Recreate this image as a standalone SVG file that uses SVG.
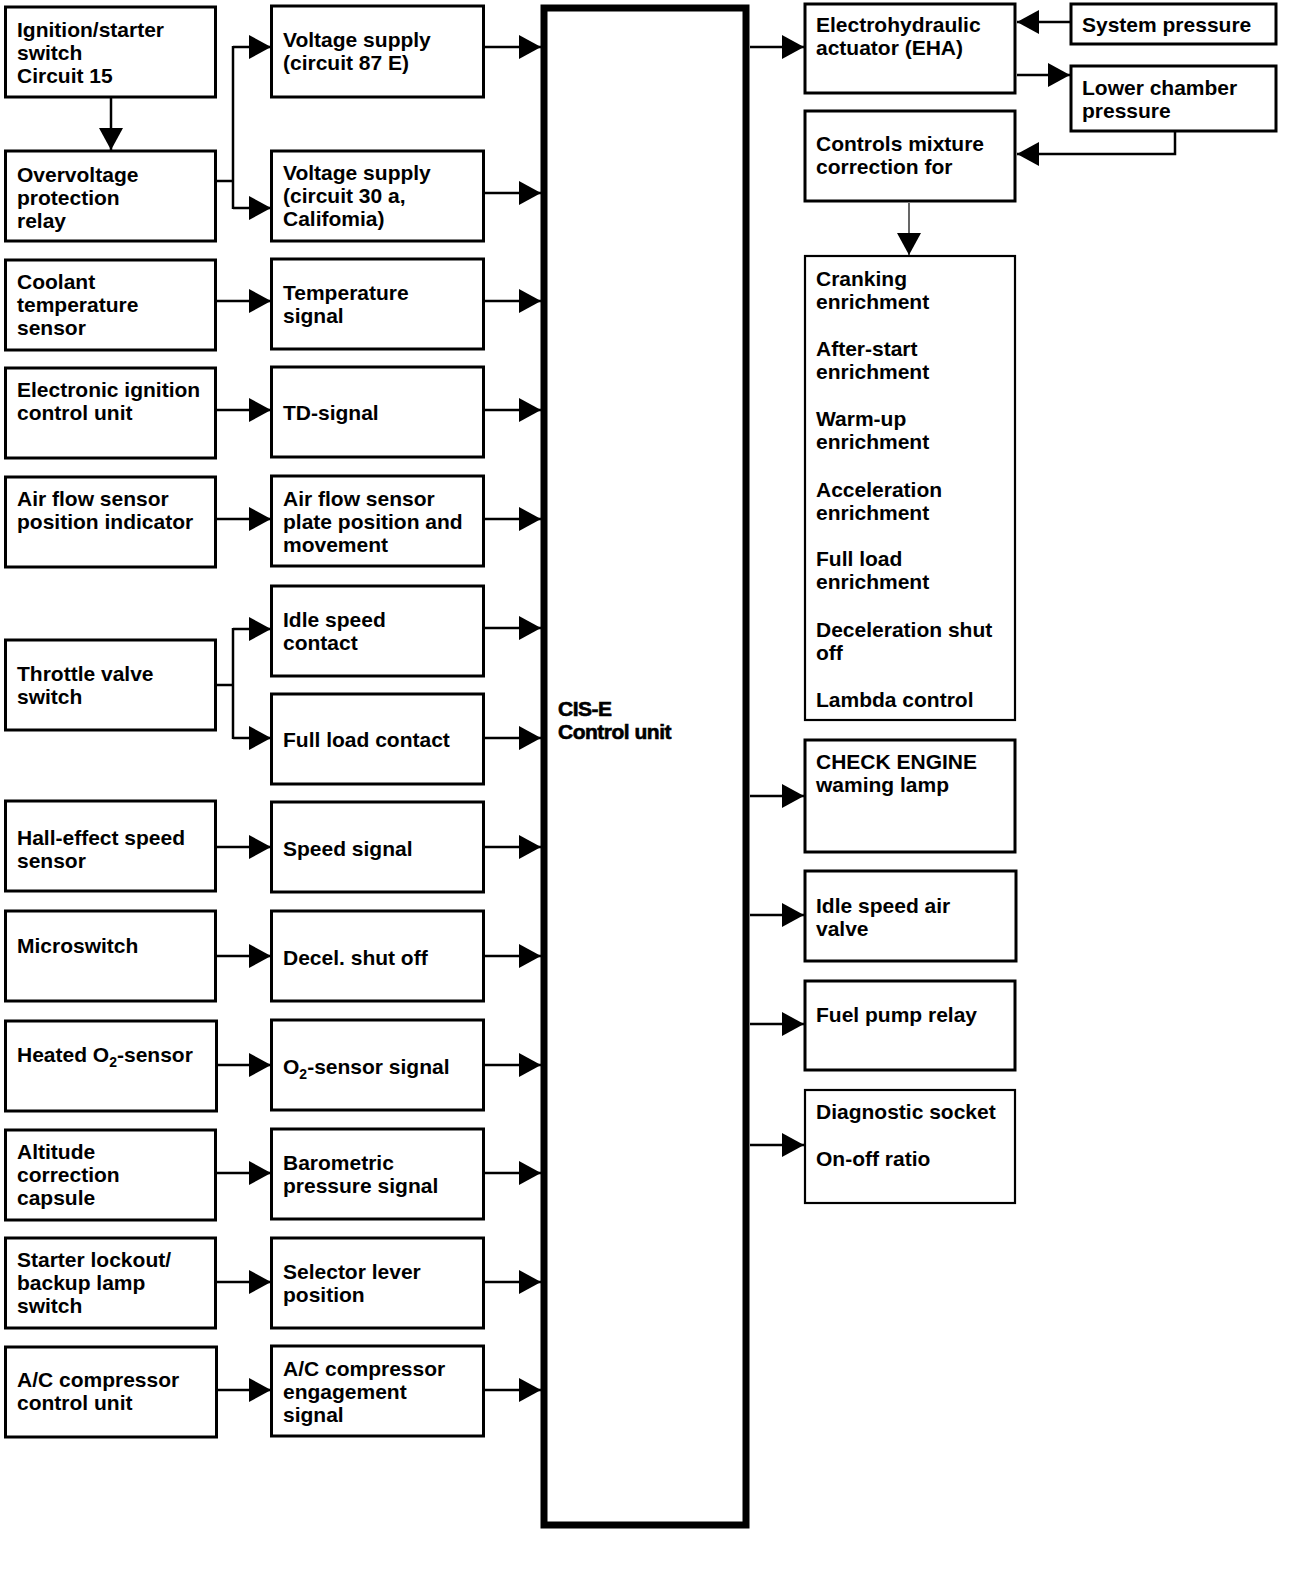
<svg xmlns="http://www.w3.org/2000/svg" width="1312" height="1588" viewBox="0 0 1312 1588">
<style>
text{font-family:"Liberation Sans",Arial,sans-serif;font-size:21px;font-weight:bold;fill:#000}
.box{fill:#fff;stroke:#000;stroke-width:3}
.thin{fill:#fff;stroke:#000;stroke-width:2.2}
.cu{fill:#fff;stroke:#000;stroke-width:7}
.c{fill:none;stroke:#000;stroke-width:2.5}
.c1{fill:none;stroke:#000;stroke-width:1.2}
.cut{font-size:21px;letter-spacing:-0.5px;stroke:#000;stroke-width:0.6}
</style>
<defs>
<marker id="ah" viewBox="0 0 22 24" refX="22" refY="12" markerWidth="22" markerHeight="24" markerUnits="userSpaceOnUse" orient="auto">
<path d="M0,0 L22,12 L0,24 z" fill="#000"/>
</marker>
</defs>
<rect width="1312" height="1588" fill="#fff"/>

<g id="connectors">
<line class="c" x1="111" y1="98" x2="111" y2="150" marker-end="url(#ah)"/>
<polyline class="c" points="217,181 233,181"/>
<line class="c" x1="233" y1="46" x2="233" y2="209"/>
<line class="c" x1="233" y1="47" x2="271" y2="47" marker-end="url(#ah)"/>
<line class="c" x1="233" y1="208" x2="271" y2="208" marker-end="url(#ah)"/>
<line class="c" x1="217" y1="301" x2="271" y2="301" marker-end="url(#ah)"/>
<line class="c" x1="217" y1="410" x2="271" y2="410" marker-end="url(#ah)"/>
<line class="c" x1="217" y1="519" x2="271" y2="519" marker-end="url(#ah)"/>
<polyline class="c" points="217,685 233,685"/>
<line class="c" x1="233" y1="628" x2="233" y2="739"/>
<line class="c" x1="233" y1="629" x2="271" y2="629" marker-end="url(#ah)"/>
<line class="c" x1="233" y1="738" x2="271" y2="738" marker-end="url(#ah)"/>
<line class="c" x1="217" y1="847" x2="271" y2="847" marker-end="url(#ah)"/>
<line class="c" x1="217" y1="956" x2="271" y2="956" marker-end="url(#ah)"/>
<line class="c" x1="217" y1="1065" x2="271" y2="1065" marker-end="url(#ah)"/>
<line class="c" x1="217" y1="1173" x2="271" y2="1173" marker-end="url(#ah)"/>
<line class="c" x1="217" y1="1282" x2="271" y2="1282" marker-end="url(#ah)"/>
<line class="c" x1="217" y1="1390" x2="271" y2="1390" marker-end="url(#ah)"/>

<line class="c" x1="485" y1="47" x2="541" y2="47" marker-end="url(#ah)"/>
<line class="c" x1="485" y1="193" x2="541" y2="193" marker-end="url(#ah)"/>
<line class="c" x1="485" y1="301" x2="541" y2="301" marker-end="url(#ah)"/>
<line class="c" x1="485" y1="410" x2="541" y2="410" marker-end="url(#ah)"/>
<line class="c" x1="485" y1="519" x2="541" y2="519" marker-end="url(#ah)"/>
<line class="c" x1="485" y1="628" x2="541" y2="628" marker-end="url(#ah)"/>
<line class="c" x1="485" y1="738" x2="541" y2="738" marker-end="url(#ah)"/>
<line class="c" x1="485" y1="847" x2="541" y2="847" marker-end="url(#ah)"/>
<line class="c" x1="485" y1="956" x2="541" y2="956" marker-end="url(#ah)"/>
<line class="c" x1="485" y1="1065" x2="541" y2="1065" marker-end="url(#ah)"/>
<line class="c" x1="485" y1="1173" x2="541" y2="1173" marker-end="url(#ah)"/>
<line class="c" x1="485" y1="1282" x2="541" y2="1282" marker-end="url(#ah)"/>
<line class="c" x1="485" y1="1390" x2="541" y2="1390" marker-end="url(#ah)"/>

<line class="c" x1="750" y1="47" x2="804" y2="47" marker-end="url(#ah)"/>
<line class="c" x1="750" y1="796" x2="804" y2="796" marker-end="url(#ah)"/>
<line class="c" x1="750" y1="915" x2="804" y2="915" marker-end="url(#ah)"/>
<line class="c" x1="750" y1="1024" x2="804" y2="1024" marker-end="url(#ah)"/>
<line class="c" x1="750" y1="1145" x2="804" y2="1145" marker-end="url(#ah)"/>

<line class="c" x1="1070" y1="22" x2="1017" y2="22" marker-end="url(#ah)"/>
<line class="c" x1="1017" y1="75" x2="1070" y2="75" marker-end="url(#ah)"/>
<polyline class="c" points="1175,132 1175,154 1017,154" marker-end="url(#ah)"/>
<line class="c1" x1="909" y1="203" x2="909" y2="255" marker-end="url(#ah)"/>
</g>

<g id="n-ignition"><rect class="box" x="5.5" y="7" width="210" height="90"/><text x="17" y="37">Ignition/starter</text><text x="17" y="60">switch</text><text x="17" y="83">Circuit 15</text></g>
<g id="n-overvoltage"><rect class="box" x="5.5" y="151" width="210" height="90"/><text x="17" y="182">Overvoltage</text><text x="17" y="205">protection</text><text x="17" y="228">relay</text></g>
<g id="n-coolant"><rect class="box" x="5.5" y="260" width="210" height="90"/><text x="17" y="289">Coolant</text><text x="17" y="312">temperature</text><text x="17" y="335">sensor</text></g>
<g id="n-eicu"><rect class="box" x="5.5" y="368" width="210" height="90"/><text x="17" y="397">Electronic ignition</text><text x="17" y="420">control unit</text></g>
<g id="n-afspi"><rect class="box" x="5.5" y="477" width="210" height="90"/><text x="17" y="506">Air flow sensor</text><text x="17" y="529">position indicator</text></g>
<g id="n-throttle"><rect class="box" x="5.5" y="640" width="210" height="90"/><text x="17" y="681">Throttle valve</text><text x="17" y="704">switch</text></g>
<g id="n-hall"><rect class="box" x="5.5" y="801" width="210" height="90"/><text x="17" y="845">Hall-effect speed</text><text x="17" y="868">sensor</text></g>
<g id="n-micro"><rect class="box" x="5.5" y="911" width="210" height="90"/><text x="17" y="953">Microswitch</text></g>
<g id="n-heated"><rect class="box" x="5.5" y="1021" width="211" height="90"/><text x="17" y="1062">Heated O<tspan font-size="14" dy="5">2</tspan><tspan dy="-5">-sensor</tspan></text></g>
<g id="n-altitude"><rect class="box" x="5.5" y="1130" width="210" height="90"/><text x="17" y="1159">Altitude</text><text x="17" y="1182">correction</text><text x="17" y="1205">capsule</text></g>
<g id="n-starter"><rect class="box" x="5.5" y="1238" width="210" height="90"/><text x="17" y="1267">Starter lockout/</text><text x="17" y="1290">backup lamp</text><text x="17" y="1313">switch</text></g>
<g id="n-accu"><rect class="box" x="5.5" y="1347" width="211" height="90"/><text x="17" y="1387">A/C compressor</text><text x="17" y="1410">control unit</text></g>

<g id="n-vs87"><rect class="box" x="271.5" y="6" width="212" height="91"/><text x="283" y="47">Voltage supply</text><text x="283" y="70">(circuit 87 E)</text></g>
<g id="n-vs30"><rect class="box" x="271.5" y="151" width="212" height="90"/><text x="283" y="180">Voltage supply</text><text x="283" y="203">(circuit 30 a,</text><text x="283" y="226">Califomia)</text></g>
<g id="n-temp"><rect class="box" x="271.5" y="259" width="212" height="90"/><text x="283" y="300">Temperature</text><text x="283" y="323">signal</text></g>
<g id="n-td"><rect class="box" x="271.5" y="367" width="212" height="90"/><text x="283" y="420">TD-signal</text></g>
<g id="n-afpp"><rect class="box" x="271.5" y="476" width="212" height="90"/><text x="283" y="506">Air flow sensor</text><text x="283" y="529">plate position and</text><text x="283" y="552">movement</text></g>
<g id="n-idlec"><rect class="box" x="271.5" y="586" width="212" height="90"/><text x="283" y="627">Idle speed</text><text x="283" y="650">contact</text></g>
<g id="n-fullc"><rect class="box" x="271.5" y="694" width="212" height="90"/><text x="283" y="747">Full load contact</text></g>
<g id="n-speed"><rect class="box" x="271.5" y="802" width="212" height="90"/><text x="283" y="856">Speed signal</text></g>
<g id="n-decel"><rect class="box" x="271.5" y="911" width="212" height="90"/><text x="283" y="965">Decel. shut off</text></g>
<g id="n-o2sig"><rect class="box" x="271.5" y="1020" width="212" height="90"/><text x="283" y="1074">O<tspan font-size="14" dy="5">2</tspan><tspan dy="-5">-sensor signal</tspan></text></g>
<g id="n-baro"><rect class="box" x="271.5" y="1129" width="212" height="90"/><text x="283" y="1170">Barometric</text><text x="283" y="1193">pressure signal</text></g>
<g id="n-selector"><rect class="box" x="271.5" y="1238" width="212" height="90"/><text x="283" y="1279">Selector lever</text><text x="283" y="1302">position</text></g>
<g id="n-aceng"><rect class="box" x="271.5" y="1346" width="212" height="90"/><text x="283" y="1376">A/C compressor</text><text x="283" y="1399">engagement</text><text x="283" y="1422">signal</text></g>

<g id="n-cu"><rect class="cu" x="544" y="8" width="202" height="1517"/><text class="cut" x="558" y="716">CIS-E</text><text class="cut" x="558" y="739">Control unit</text></g>

<g id="n-eha"><rect class="box" x="805" y="4" width="210" height="89"/><text x="816" y="32">Electrohydraulic</text><text x="816" y="55">actuator (EHA)</text></g>
<g id="n-syspress"><rect class="box" x="1071" y="4" width="205" height="40"/><text x="1082" y="32">System pressure</text></g>
<g id="n-lower"><rect class="box" x="1071" y="66" width="205" height="65"/><text x="1082" y="95">Lower chamber</text><text x="1082" y="118">pressure</text></g>
<g id="n-controls"><rect class="box" x="805" y="111" width="210" height="90"/><text x="816" y="151">Controls mixture</text><text x="816" y="174">correction for</text></g>
<g id="n-enrich"><rect class="thin" x="805" y="256" width="210" height="464"/>
<text x="816" y="286">Cranking</text><text x="816" y="309">enrichment</text>
<text x="816" y="356">After-start</text><text x="816" y="379">enrichment</text>
<text x="816" y="426">Warm-up</text><text x="816" y="449">enrichment</text>
<text x="816" y="497">Acceleration</text><text x="816" y="520">enrichment</text>
<text x="816" y="566">Full load</text><text x="816" y="589">enrichment</text>
<text x="816" y="637">Deceleration shut</text><text x="816" y="660">off</text>
<text x="816" y="707">Lambda control</text></g>
<g id="n-check"><rect class="box" x="805" y="740" width="210" height="112"/><text x="816" y="769">CHECK ENGINE</text><text x="816" y="792">waming lamp</text></g>
<g id="n-isav"><rect class="box" x="805" y="871" width="211" height="90"/><text x="816" y="913">Idle speed air</text><text x="816" y="936">valve</text></g>
<g id="n-fuel"><rect class="box" x="805" y="981" width="210" height="89"/><text x="816" y="1022">Fuel pump relay</text></g>
<g id="n-diag"><rect class="thin" x="805" y="1090" width="210" height="113"/><text x="816" y="1119">Diagnostic socket</text><text x="816" y="1166">On-off ratio</text></g>
</svg>
